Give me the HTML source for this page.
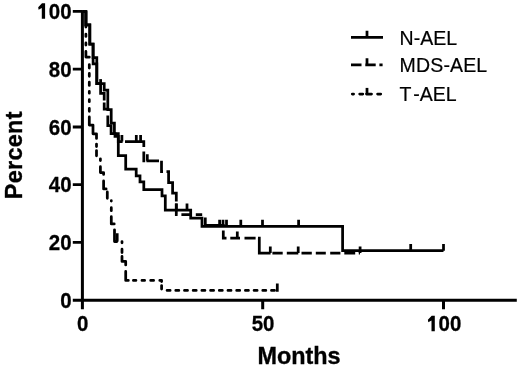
<!DOCTYPE html>
<html><head><meta charset="utf-8">
<style>
html,body{margin:0;padding:0;background:#fff;width:520px;height:366px;overflow:hidden}
svg{display:block;will-change:transform}
text{font-family:"Liberation Sans",sans-serif;fill:#000;font-kerning:none}
.tl{font-weight:bold;font-size:22px;stroke:#000;stroke-width:0.3px}
.ax{font-weight:bold;font-size:23.4px;stroke:#000;stroke-width:0.35px}
.lg{font-size:19.5px;stroke:#000;stroke-width:0.2px}
</style></head><body>
<svg width="520" height="366" viewBox="0 0 520 366">
<g fill="none" stroke="#000" stroke-width="3" stroke-linecap="butt">
<path d="M82.4,10.3 V300.2 H516.8 M72.8,300.2 H82.4"/>
<path stroke-width="2.8" d="M72.8,11.4 H82.4 M72.8,69.2 H82.4 M72.8,127 H82.4 M72.8,184.7 H82.4 M72.8,242.4 H82.4"/>
<path d="M82.4,300.2 V309.3 M262.7,300.2 V309.3 M443.5,300.2 V309.3"/>
</g>
<g fill="none" stroke="#000" stroke-width="2.75" stroke-linejoin="miter" stroke-linecap="butt">
<path d="M82.4,11.6 H85.9 V24.8 H89.8 V44.2 H93.1 V63.8 H96.8 V83.7 H104.2 V90.2 H107.8 V109.5 H111.2 V123.2 H114.4 V133.5 H118.3 V155.7 H125.7 V169.1 H136.2 V175.9 H140 V181.8 H143.8 V189.5 H162 V195.9 H165.3 V210.1 H190.7 V218 H202 V226.3 H342.6 V250.7 H443.5"/>
<path d="M176.3,210.1 v-6.6 M187,210.1 v-6.6 M219.6,226.3 v-6.6 M223,226.3 v-6.6 M226.5,226.3 v-6.6 M240.8,226.3 v-6.6 M262.5,226.3 v-6.6 M298.6,226.3 v-6.6 M410.7,250.7 v-6.6 M443.5,250.7 v-6.6"/>
<path d="M82.4,11.6 H85.9 V24.8 H89.8 V44.2 H93.1 V57.5 H96.8 V83.7 H100.6 V93.3 H104.2 V100.6 M104.2,102.4 V109.2 H107.8 V110.4 M107.8,115.6 V125.5 H111.1 V133.5 H115 V136.3 H118.3 V141.5 H122.6 M125,141.5 H143.8 V147 M143.8,151.4 V160.8 H145.2 M146.4,160.8 H159 M161.5,160.8 V171.6 H163 M166.5,171.6 H168.6 V182.7 H172.6 V193 H176.3 V201.5 M176.3,203.5 V214.5 H177.6 M181.4,214.5 H191.6 M195.8,214.5 H202.2 M205.3,217.4 V225.4 H223.3 V226.6 M223.3,230.4 V238 H226.5 M230.3,238 H240 M244.5,238 H255.6 M258,238 H259.3 V253.1 H270.6 M272.4,253.1 H282.7 M286.8,253.1 H298.3 M301.5,253.1 H311.8 M315.8,253.1 H325.8 M330.2,253.1 H340.4 M344.3,253.1 H355.2 M358.8,253.1 H360"/>
<path d="M121.9,141.5 v-6.6 M136.3,141.5 v-6.6 M140.6,141.5 v-6.6 M147.3,160.8 v-6.6 M237.3,238 v-6.6 M270.3,253.1 v-6.6 M298.2,253.1 v-6.6 M360.1,253.1 v-6.6"/>
<path d="M100.6,83.7 v-4.6"/>
<path stroke-linecap="round" stroke-linejoin="round" d="M83.78,11.6 L85.9,11.6 L85.9,27.02 M85.9,34.08 L85.9,36.42 M85.9,42.88 L85.9,45.12 M85.9,51.38 L85.9,57.1 L89.3,57.1 L89.3,57.23 M89.3,64.58 L89.3,68.12 M89.3,73.38 L89.3,76.33 M89.3,82.17 L89.3,85.42 M89.3,91.38 L89.3,93.22 M89.3,99.67 L89.3,101.72 M89.3,108.38 L89.3,111.33 M89.3,116.97 L89.3,125 L93,125 L93,133.8 L96.5,133.8 L96.5,138.43 M96.5,144.07 L96.5,146.53 M96.5,150.57 L96.5,155.82 M100.4,158.78 L100.4,160.62 M100.4,166.68 L100.4,172.5 L103.6,172.5 L103.6,174.43 M103.6,180.88 L103.6,188.9 L106.12,188.9 M107.3,191.97 L107.3,198.3 L107.31,198.3 M111.3,200.68 L111.3,201.03 M111.3,207.68 L111.3,210.72 M111.3,216.68 L111.3,223.9 L114.22,223.9 M114.5,229.78 L114.5,241.5 L116.83,241.5 M121.97,241.5 L122,241.5 L122,242.82 M122,249.18 L122,252.53 M122,256.48 L122,261.4 L125.7,261.4 L125.7,264.93 M125.7,271.48 L125.7,280.4 L128.32,280.4 M133.38,280.4 L135.93,280.4 M141.97,280.4 L144.62,280.4 M150.68,280.4 L153.62,280.4 M159.78,280.4 L161.6,280.4 L161.6,281.52 M161.6,285.57 L161.6,289.02 M167.07,290.4 L170.12,290.4 M175.77,290.4 L178.82,290.4 M184.47,290.4 L187.53,290.4 M193.17,290.4 L196.22,290.4 M201.88,290.4 L204.93,290.4 M210.57,290.4 L213.62,290.4 M219.27,290.4 L222.32,290.4 M227.97,290.4 L231.02,290.4 M236.67,290.4 L239.72,290.4 M245.38,290.4 L248.43,290.4 M254.07,290.4 L257.12,290.4 M262.77,290.4 L265.82,290.4 M271.47,290.4 L274.52,290.4"/>
<path d="M117.2,241.5 v-8.2 M277.3,291.7 v-8.2"/>
<path d="M351,37.3 H383 M367,37.3 v-6.6"/>
<path d="M351,64.9 H361.5 M365.3,64.9 H375.7 M379.4,64.9 H382.6 M367,64.9 v-6.6"/>
<path stroke-linecap="round" d="M352.3,94.1 H353.6 M359.7,94.1 H362.8 M366.5,94.1 H371.5 M377.6,94.1 H380.7"/>
<path d="M367,94.1 v-6.2"/>
</g>
<g class="tl" text-anchor="end">
<text transform="translate(71.6,18.8) scale(0.93,1)">00</text>
<text transform="translate(71.6,76.7) scale(0.93,1)">80</text>
<text transform="translate(71.6,134.6) scale(0.93,1)">60</text>
<text transform="translate(71.6,192.3) scale(0.93,1)">40</text>
<text transform="translate(71.6,250) scale(0.93,1)">20</text>
<text transform="translate(71.6,307.5) scale(0.93,1)">0</text>
</g>
<g class="tl" text-anchor="middle">
<text transform="translate(82.6,331.4) scale(0.93,1)">0</text>
<text transform="translate(263.1,331.4) scale(0.93,1)">50</text>

</g>
<g class="tl" text-anchor="end"><text transform="translate(461.3,331.3) scale(0.93,1)">00</text></g>
<path d="M38.2,7.2 L42,3.2 L45.1,3.2 L45.1,18.8 L41.8,18.8 L41.8,8 L38.6,9.7 Z"/>
<path d="M38.2,7.2 L42,3.2 L45.1,3.2 L45.1,18.8 L41.8,18.8 L41.8,8 L38.6,9.7 Z" transform="translate(389.7,312.5)"/>
<text class="ax" x="299" y="364" text-anchor="middle">Months</text>
<text class="ax" transform="translate(22.2,155.2) rotate(-90)" text-anchor="middle" letter-spacing="0.3">Percent</text>
<g class="lg">
<text x="399.6" y="44.6">N-AEL</text>
<text x="399.6" y="71.9" letter-spacing="0.15">MDS-AEL</text>
<text x="399.6" y="100.6">T<tspan dx="1.8">-AEL</tspan></text>
</g>
</svg>
</body></html>
